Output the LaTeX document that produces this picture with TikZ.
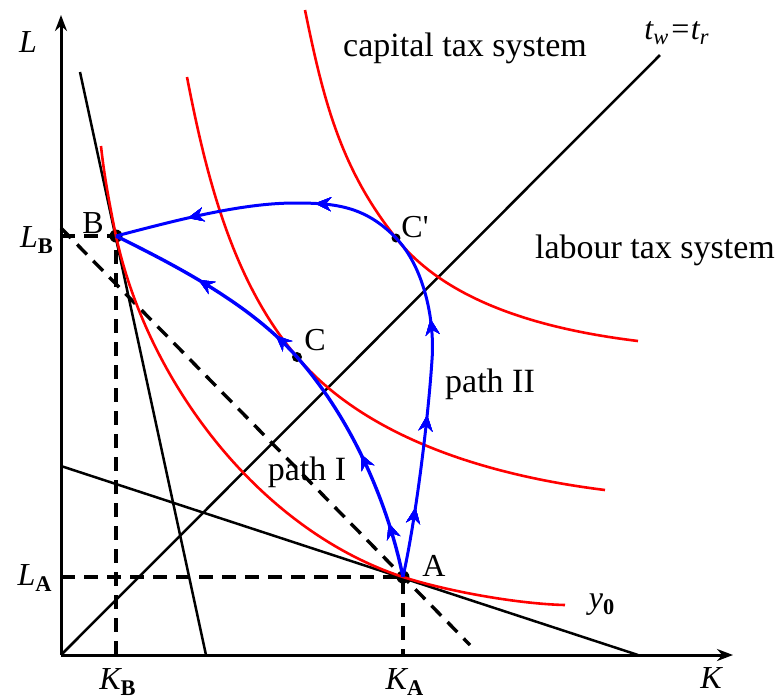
\documentclass[tikz,border=0pt]{standalone}
\usepackage{fontspec}
\setmainfont{Liberation Serif}
\usetikzlibrary{arrows.meta,decorations.markings}
\definecolor{IsoRed}{RGB}{255,0,0}
\definecolor{PathBlue}{RGB}{0,0,255}

\begin{document}
\begin{tikzpicture}[x=0.5pt,y=-0.5pt,
    axis/.style={line width=1.5pt,-{Stealth[length=8pt,width=6pt]}},
    budget/.style={line width=1.25pt},
    guide/.style={line width=1.7pt,dash pattern=on 7pt off 4.5pt},
    isoline/.style={IsoRed,line width=1.3pt},
    pathline/.style={PathBlue,line width=#1},
    tip/.style={decoration={markings,mark=at position #1 with
      {\arrow{Stealth[length=8pt,width=7pt]}}},postaction=decorate},
    dot/.style={circle,fill,inner sep=0pt,minimum size=#1},
    lbl/.style={inner sep=0pt,font=\fontsize{16}{17}\selectfont},
    bigtxt/.style={inner sep=0pt,font=\fontsize{17}{18}\selectfont}]
  \useasboundingbox (0,0) rectangle (778,698);

  % axes and points
  \coordinate (O) at (61,655);
  \coordinate (Ltop) at (61,15);
  \coordinate (Kend) at (733,655);
  \coordinate (T) at (660,55);
  \coordinate (S1) at (80,72);
  \coordinate (S2) at (206,655);
  \coordinate (R1) at (61,466);
  \coordinate (R2) at (638,655);
  \coordinate (D1) at (61,228);
  \coordinate (D2) at (470,645);
  \coordinate (P) at (432,360);
  \coordinate (Q) at (295,203);
  \node[dot=6.5pt] (A) at (403,577) {};
  \node[dot=6.5pt] (B) at (116,236) {};
  \node[dot=5pt] (C) at (297,357) {};
  \node[dot=4.5pt] (Cp) at (396,238) {};

  \draw[axis] (O) -- (Ltop);
  \draw[axis] (O) -- (Kend);
  \draw[budget] (O) -- (T);
  \draw[budget] (S1) -- (S2);
  \draw[budget] (R1) -- (R2);

  \draw[guide] (D1) -- (D2);
  \draw[guide] (O |- B) -- (B.center) -- (O -| B);
  \draw[guide] (O |- A) -- (A.center) -- (O -| A);

  % isoquants
  \draw[isoline] (101,146) .. controls (104,175) and (110,207) .. (B.center)
    .. controls (148,383) and (260,530) .. (A.center)
    .. controls (450,592) and (520,604) .. (565,605);
  \draw[isoline] (187,77) .. controls (206,175) and (232,281) .. (C.center)
    .. controls (362,433) and (476,474) .. (605,490);
  \draw[isoline] (305,10) .. controls (323,98) and (340,168) .. (Cp.center)
    .. controls (446,301) and (539,329) .. (638,341);

  % adjustment paths
  \draw[pathline=1.7pt,tip=0.12,tip=0.28,tip=0.595,tip=0.80]
    (A.center) .. controls (387,499) and (350,417) .. (C.center)
    .. controls (251,305) and (179,267) .. (B.center);
  \draw[pathline=1.5pt,tip=0.11,tip=0.255,tip=0.405,tip=0.685,tip=0.885]
    (A.center) .. controls (416,518) and (428,420) .. (P)
    .. controls (435,320) and (424,267) .. (Cp.center)
    .. controls (365,206) and (335,203) .. (Q)
    .. controls (240,203) and (174,221) .. (B.center);

  % labels
  \node[lbl] (labA) at (434,566) {A};
  \node[lbl] (labB) at (93,223) {B};
  \node[lbl] (labC) at (315,340) {C};
  \node[lbl] (labCp) at (415,227) {C\textquotesingle};
  \node[lbl] (labL) at (28,42) {\itshape L};
  \node[lbl] (labK) at (711,678) {\itshape K};
  \node[lbl] (labLB) at (37,240) {\itshape L\textsubscript{\upshape\bfseries B}};
  \node[lbl] (labLA) at (35,578) {\itshape L\textsubscript{\upshape\bfseries A}};
  \node[lbl] (labKB) at (118,682) {\itshape K\textsubscript{\upshape\bfseries B}};
  \node[lbl] (labKA) at (405,682) {\itshape K\textsubscript{\upshape\bfseries A}};
  \node[lbl] (laby) at (602,605) {\itshape y\textsubscript{\upshape\bfseries 0}};
  \node[lbl] (labT) at (677,33) {\itshape t\textsubscript{w}=t\textsubscript{r}};
  \node[bigtxt] (capital) at (465,48) {capital tax system};
  \node[bigtxt] (labour) at (655,250) {labour tax system};
  \node[bigtxt] (pathI) at (307,472) {path I};
  \node[bigtxt] (pathII) at (490,384) {path II};
\end{tikzpicture}
\end{document}
